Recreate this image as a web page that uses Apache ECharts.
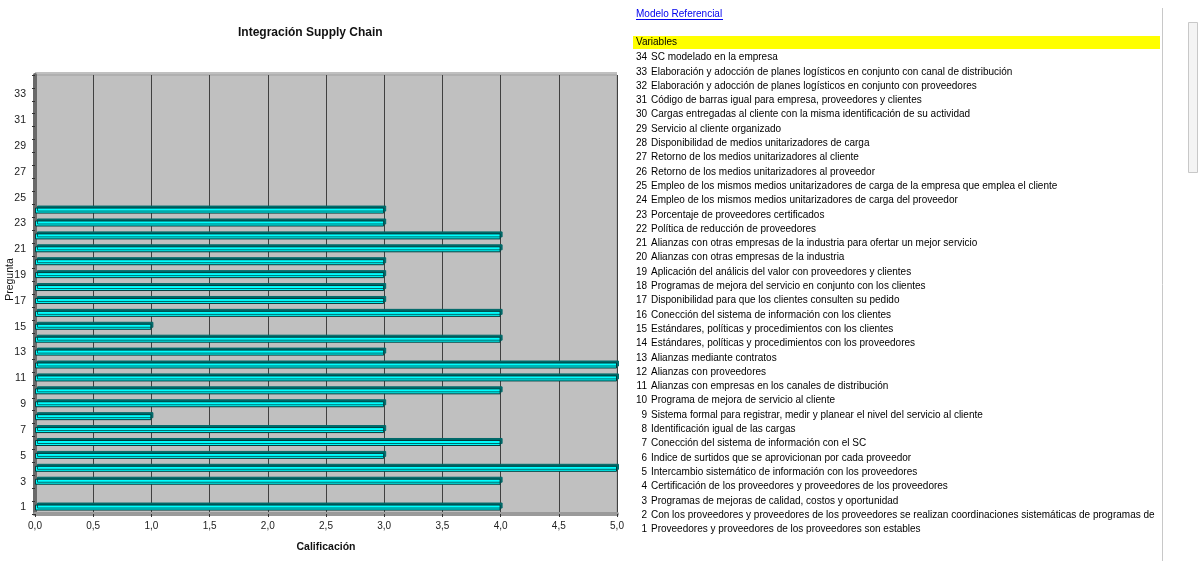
<!DOCTYPE html>
<html>
<head>
<meta charset="utf-8">
<script src="https://cdn.jsdelivr.net/npm/echarts@6/dist/echarts.min.js"></script>
<style>
  html, body { margin: 0; padding: 0; background: #fff; }
  #chart { width: 1198px; height: 561px; }
</style>
</head>
<body>
<div id="chart"></div>
<script>
// preguntas 1..34 (eje vertical)
const questions = ['1','2','3','4','5','6','7','8','9','10','11','12','13','14','15','16','17',
  '18','19','20','21','22','23','24','25','26','27','28','29','30','31','32','33','34'];
// calificación por pregunta (sin valor = null)
const scores = [4, null, 4, 5, 3, 4, 3, 1, 3, 4, 5, 5, 3, 4, 1, 4, 3, 3, 3, 3, 4, 4, 3, 3,
  null, null, null, null, null, null, null, null, null, null];
// lista de variables, de la 1 a la 34
const variables = [
  'Proveedores y proveedores de los proveedores son estables',
  'Con los proveedores y proveedores de los proveedores se realizan coordinaciones sistemáticas de programas de producción',
  'Programas de mejoras de calidad, costos y oportunidad',
  'Certificación de los proveedores y proveedores de los proveedores',
  'Intercambio sistemático de información con los proveedores',
  'Indice de surtidos que se aprovicionan por cada proveedor',
  'Conección del sistema de información con el SC',
  'Identificación igual de las cargas',
  'Sistema formal para registrar, medir y planear el nivel del servicio al cliente',
  'Programa de mejora de servicio al cliente',
  'Alianzas con empresas en los canales de distribución',
  'Alianzas con proveedores',
  'Alianzas mediante contratos',
  'Estándares, políticas y procedimientos con los proveedores',
  'Estándares, políticas y procedimientos con los clientes',
  'Conección del sistema de información con los clientes',
  'Disponibilidad para que los clientes consulten su pedido',
  'Programas de mejora del servicio en conjunto con los clientes',
  'Aplicación del análicis del valor con proveedores y clientes',
  'Alianzas con otras empresas de la industria',
  'Alianzas con otras empresas de la industria para ofertar un mejor servicio',
  'Política de reducción de proveedores',
  'Porcentaje de proveedores certificados',
  'Empleo de los mismos medios unitarizadores de carga del proveedor',
  'Empleo de los mismos medios unitarizadores de carga de la empresa que emplea el cliente',
  'Retorno de los medios unitarizadores al proveedor',
  'Retorno de los medios unitarizadores al cliente',
  'Disponibilidad de medios unitarizadores de carga',
  'Servicio al cliente organizado',
  'Cargas entregadas al cliente con la misma identificación de su actividad',
  'Código de barras igual para empresa, proveedores y clientes',
  'Elaboración y adocción de planes logísticos en conjunto con proveedores',
  'Elaboración y adocción de planes logísticos en conjunto con canal de distribución',
  'SC modelado en la empresa'
];

const font = '"Liberation Sans", Arial, sans-serif';
const listFont = '10px "Liberation Sans", Arial, sans-serif';

// panel de la derecha
let panel = [
  {type: 'rect', shape: {x: 35, y: 72, width: 582, height: 4}, style: {fill: '#c0c0c0'}, z: -1},
  {type: 'text', x: 636, y: 14, style: {text: 'Modelo Referencial', fill: '#0000ee', font: listFont, verticalAlign: 'middle'}},
  {type: 'line', shape: {x1: 636, y1: 19.5, x2: 723, y2: 19.5}, style: {stroke: '#0000ee', lineWidth: 1}},
  {type: 'rect', shape: {x: 633, y: 36, width: 527, height: 13}, style: {fill: '#ffff00'}},
  {type: 'text', x: 636, y: 42.5, style: {text: 'Variables', fill: '#000', font: listFont, verticalAlign: 'middle'}},
  {type: 'line', shape: {x1: 1162.5, y1: 8, x2: 1162.5, y2: 561}, style: {stroke: '#c8c8c8', lineWidth: 1}},
  {type: 'rect', shape: {x: 1188.5, y: 22.5, width: 9, height: 150}, style: {fill: '#f4f4f4', stroke: '#c8c8c8', lineWidth: 1}}
]
for (let i = 0; i < variables.length; i++) {
  const n = variables.length - i
  const y = 57.5 + i * 14.3
  panel.push({
    type: 'text', x: 647, y: y,
    style: {text: String(n), fill: '#000', font: listFont, align: 'right', verticalAlign: 'middle'}
  })
  panel.push({
    type: 'text', x: 651, y: y,
    style: {text: variables[n - 1], fill: '#000', font: listFont, verticalAlign: 'middle',
      width: 509, overflow: 'truncate', ellipsis: ''}
  })
}

const myChart = echarts.init(document.getElementById('chart'))
myChart.setOption({
  animation: false,
  backgroundColor: '#fff',
  title: {
    text: 'Integración Supply Chain',
    left: 233,
    top: 22,
    textStyle: {fontFamily: font, fontSize: 12, fontWeight: 'bold', color: '#111'}
  },
  grid: {
    left: 35,
    right: 581,
    top: 75,
    bottom: 47,
    outerBoundsMode: 'none',
    show: true,
    backgroundColor: '#c0c0c0',
    borderColor: '#a0a0a0',
    borderWidth: 1
  },
  xAxis: {
    type: 'value',
    min: 0,
    max: 5,
    interval: 0.5,
    name: 'Calificación',
    nameLocation: 'middle',
    nameGap: 28,
    nameMoveOverlap: false,
    nameTextStyle: {fontFamily: font, fontSize: 10.5, fontWeight: 'bold', color: '#111'},
    axisLine: {show: true, lineStyle: {color: '#9a9a9a', width: 4}},
    axisTick: {show: true, length: 3, lineStyle: {color: '#333'}},
    axisLabel: {
      fontFamily: font, fontSize: 10, color: '#222', margin: 7,
      formatter: v => v.toFixed(1).replace('.', ',')
    },
    splitLine: {show: true, lineStyle: {color: '#404040', width: 1}}
  },
  yAxis: {
    type: 'category',
    data: questions,
    name: 'Pregunta',
    nameLocation: 'middle',
    nameGap: 19,
    nameMoveOverlap: false,
    nameRotate: 90,
    nameTextStyle: {fontFamily: font, fontSize: 10.5, color: '#111', padding: [0, 0, 0, 30]},
    axisLine: {show: true, lineStyle: {color: '#6a6a6a', width: 4}},
    axisTick: {show: true, interval: 0, length: 3, lineStyle: {color: '#333'}},
    axisLabel: {interval: 1, fontFamily: font, fontSize: 10.5, color: '#222', margin: 9},
    splitLine: {show: false}
  },
  series: [
    {
      type: 'bar',
      data: scores,
      barWidth: 6,
      itemStyle: {
        color: '#00ffff',
        borderColor: '#003c3c',
        borderWidth: 1,
        shadowColor: '#006a6a',
        shadowOffsetX: 2,
        shadowOffsetY: -2,
        shadowBlur: 0
      }
    }
  ],
  graphic: panel
})
</script>
</body>
</html>
